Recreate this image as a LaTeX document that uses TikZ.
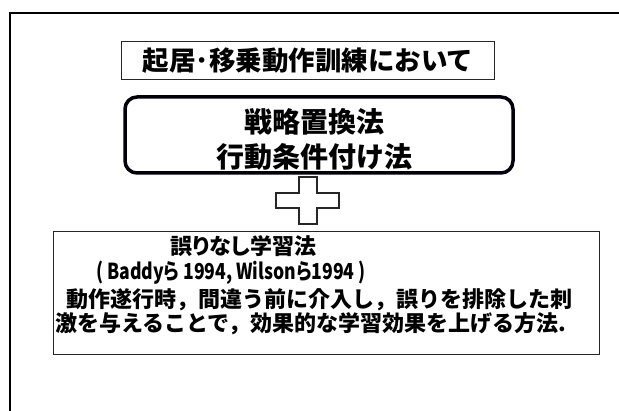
\documentclass[tikz,border=0pt]{standalone}
\usepackage{fontspec}
\setmainfont{Noto Sans CJK JP}
\newfontfamily\jpp{Noto Sans CJK JP}[RawFeature=+palt]
\begin{document}
\begin{tikzpicture}[x=1pt,y=-1pt,
  thinbox/.style={draw=black!85, line width=1pt},
  txt/.style={inner sep=0pt, font=\bfseries},
  big/.style={txt, font=\bfseries\fontsize{28}{32}\selectfont},
  small/.style={txt, anchor=west, font=\bfseries\fontsize{22}{26}\selectfont},
]
\useasboundingbox (0,0) rectangle (619,411);
% outer frame
\draw[line width=2pt] (10,411) -- (10,13) -- (619,13);
% title box
\draw[thinbox] (121,42) rectangle (494,80);
\node[txt, font=\bfseries\fontsize{26.5}{30}\selectfont] (title) at (308,61) {起居･移乗動作訓練において};
% rounded box
\draw[line width=3.5pt, draw=black!95!blue, rounded corners=12pt] (125,97) rectangle (513,173);
\node[big] (m1) at (314.5,122) {戦略置換法};
\node[big] (m2) at (314.5,157) {行動条件付け法};
% cross
\draw[thinbox, line width=1.2pt] (299,177) -- (317,177) -- (317,193) -- (339,193) -- (339,208) -- (317,208) -- (317,224) -- (299,224) -- (299,208) -- (276,208) -- (276,193) -- (299,193) -- cycle;
% bottom box
\draw[thinbox] (53,232) rectangle (599,355);
\node[small, font=\jpp\bfseries\fontsize{22}{26}\selectfont] (b1) at (170,246) {誤りなし学習法};
\node[small, font=\jpp\bfseries\fontsize{22}{26}\selectfont] (b2) at (96,273) {\scalebox{0.8}[1]{( Baddyら 1994, Wilsonら1994 )}};
\node[small] (b3) at (66,300) {動作遂行時，間違う前に介入し，誤りを排除した刺};
\node[small] (b4) at (55,324) {激を与えることで，効果的な学習効果を上げる方法.};
\end{tikzpicture}
\end{document}
